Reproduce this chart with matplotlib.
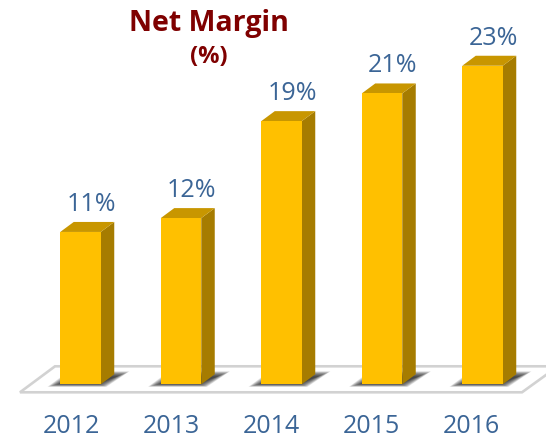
import matplotlib
matplotlib.use("Agg")
import matplotlib.pyplot as plt
from matplotlib.patches import Polygon

years = ["2012", "2013", "2014", "2015", "2016"]
margins = [11, 12, 19, 21, 23]
title = "Net Margin"
subtitle = "(%)"

W, H = 546, 439
PX_X = 100.5      # px per category
PX_Y = 13.85      # px per percentage point
X0, Y0 = 80.5, 385.3

fig = plt.figure(figsize=(W / 100, H / 100), dpi=100)
ax = fig.add_axes([0, 0, 1, 1])
ax.set_xlim(-X0 / PX_X, (W - X0) / PX_X)
ax.set_ylim(-(H - Y0) / PX_Y, Y0 / PX_Y)
ax.axis("off")

def dx(p): return p / PX_X
def dy(p): return p / PX_Y

FONT = ["Open Sans", "DejaVu Sans"]
BLUE = "#3B6596"
RED = "#7F0000"
bw = dx(40.5)
ox, oy = dx(13.5), dy(10)

# floor
floor = [(dx(20 - X0), dy(-8)), (dx(522 - X0), dy(-8)), (dx(558 - X0), dy(18)), (dx(55 - X0), dy(18))]
ax.add_patch(Polygon(floor, closed=True, fc="white", ec="#D2D2D2", lw=1.9, zorder=1))

# soft shadows under the bars, then bars
for i, v in enumerate(margins):
    n = 14
    for k in range(n):
        g = (n - 1 - k) * 0.7
        sh = [(i + dx(-33 + g * 1.4), dy(-2.5 + g * 0.35)),
              (i + dx(26 - g), dy(-2.5 + g * 0.35)),
              (i + dx(49 - g * 1.4), dy(13 - g * 0.6)),
              (i + dx(-12 + g), dy(13 - g * 0.6))]
        ax.add_patch(Polygon(sh, closed=True, fc="#202020", ec="none", alpha=0.11, zorder=2))

    ax.add_patch(Polygon([(i + bw / 2, 0), (i + bw / 2 + ox, oy), (i + bw / 2 + ox, v + oy), (i + bw / 2, v)],
                         closed=True, fc="#A67C00", ec="none", zorder=3))
    ax.add_patch(Polygon([(i - bw / 2, v), (i + bw / 2, v), (i + bw / 2 + ox, v + oy), (i - bw / 2 + ox, v + oy)],
                         closed=True, fc="#C89600", ec="none", zorder=3))

ax.bar(range(len(margins)), margins, width=bw, color="#FFC000", linewidth=0, zorder=4)

for i, (y, v) in enumerate(zip(years, margins)):
    ax.text(i + dx(10.5), v + dy(22), f"{v}%", ha="center", va="baseline", fontsize=18,
            color=BLUE, family=FONT, zorder=5)
    ax.text(i - dx(9.5) - dx(0.5) * i, dy(-48), y, ha="center", va="baseline", fontsize=18,
            color=BLUE, family=FONT, zorder=5)

ax.text(dx(209 - X0), dy(Y0 - 31), title, ha="center", va="baseline", fontsize=20.5,
        fontweight="bold", color=RED, family=FONT)
ax.text(dx(209 - X0), dy(Y0 - 63), subtitle, ha="center", va="baseline", fontsize=17,
        fontweight="bold", color=RED, family=FONT)

fig.savefig("out.png", dpi=100, facecolor="white")
